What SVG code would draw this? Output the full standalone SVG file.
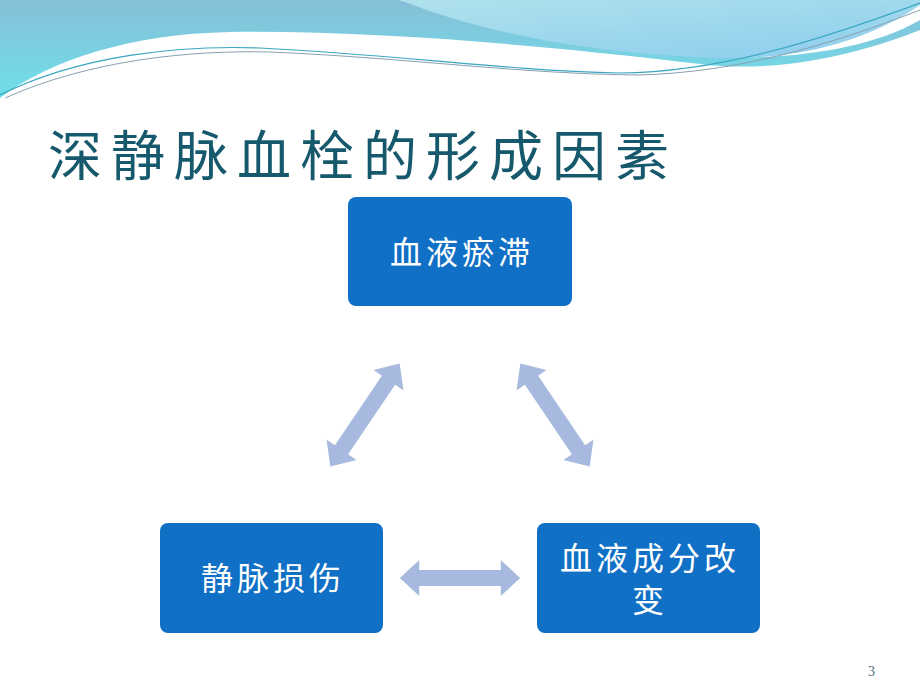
<svg xmlns="http://www.w3.org/2000/svg" width="920" height="690" viewBox="0 0 920 690">
<defs>
<linearGradient id="g1" x1="0" y1="0" x2="0" y2="1"><stop offset="0" stop-color="#86bfd8"/><stop offset="1" stop-color="#6ee0ea"/></linearGradient>
<linearGradient id="g2" x1="0" y1="0" x2="1" y2="1"><stop offset="0" stop-color="#b4e4ec"/><stop offset="1" stop-color="#8ccdee"/></linearGradient>
<path id="da" d="M-62,0 L-42,-18 L-42,-8 L42,-8 L42,-18 L62,0 L42,18 L42,8 L-42,8 L-42,18 Z"/>
</defs>
<style>
.box{fill:#1070c6;}
.t{font-family:"Noto Sans CJK SC","Liberation Sans",sans-serif;font-size:32px;letter-spacing:4px;fill:#fff;text-anchor:middle;}
.arr{fill:#a7b9de;}
</style>
<rect width="920" height="690" fill="#fff"/>
<g id="waves">
<path d="M0,0 L920,0 L920,30 C840,62 760,72 700,64 C600,52 400,30 230,32 C130,34 50,60 0,98 Z" fill="url(#g1)"/>
<path d="M230,0 L920,0 L920,20 C860,55 760,62 690,55 C600,45 470,25 400,0 Z" fill="#fff"/>
<path d="M250,0 L920,0 L920,5 C870,40 800,60 720,58 C620,55 500,40 400,0 Z" fill="url(#g2)"/>
<path d="M0,95 C80,55 180,45 260,48 C400,55 500,70 620,73 C720,72 820,40 920,3" fill="none" stroke="#3aa6c0" stroke-width="1.2"/>
<path d="M5,98 C90,60 190,50 270,52 C410,58 520,74 640,75 C740,72 830,45 920,10" fill="none" stroke="#8aa0b0" stroke-width="1"/>
</g>
<text x="48" y="176" font-family="Noto Sans CJK SC,Liberation Sans,sans-serif" font-size="54" letter-spacing="9" fill="#17596c">深静脉血栓的形成因素</text>
<g id="connectors">
<use href="#da" class="arr" transform="translate(365,415) rotate(-56)"/>
<use href="#da" class="arr" transform="translate(555,415) rotate(56)"/>
<use href="#da" class="arr" transform="translate(460,578) scale(0.97,1)"/>
</g>
<g id="n1"><rect class="box" x="348" y="197" width="224" height="109" rx="8"/><text class="t" x="462" y="264">血液瘀滞</text></g>
<g id="n2"><rect class="box" x="160" y="523" width="223" height="110" rx="8"/><text class="t" x="273" y="590">静脉损伤</text></g>
<g id="n3"><rect class="box" x="537" y="523" width="223" height="110" rx="8"/><text class="t" x="650" y="570">血液成分改</text><text class="t" x="650" y="612">变</text></g>
<text x="868" y="676" font-family="Liberation Serif,serif" font-size="14" fill="#4a7080">3</text>
</svg>
